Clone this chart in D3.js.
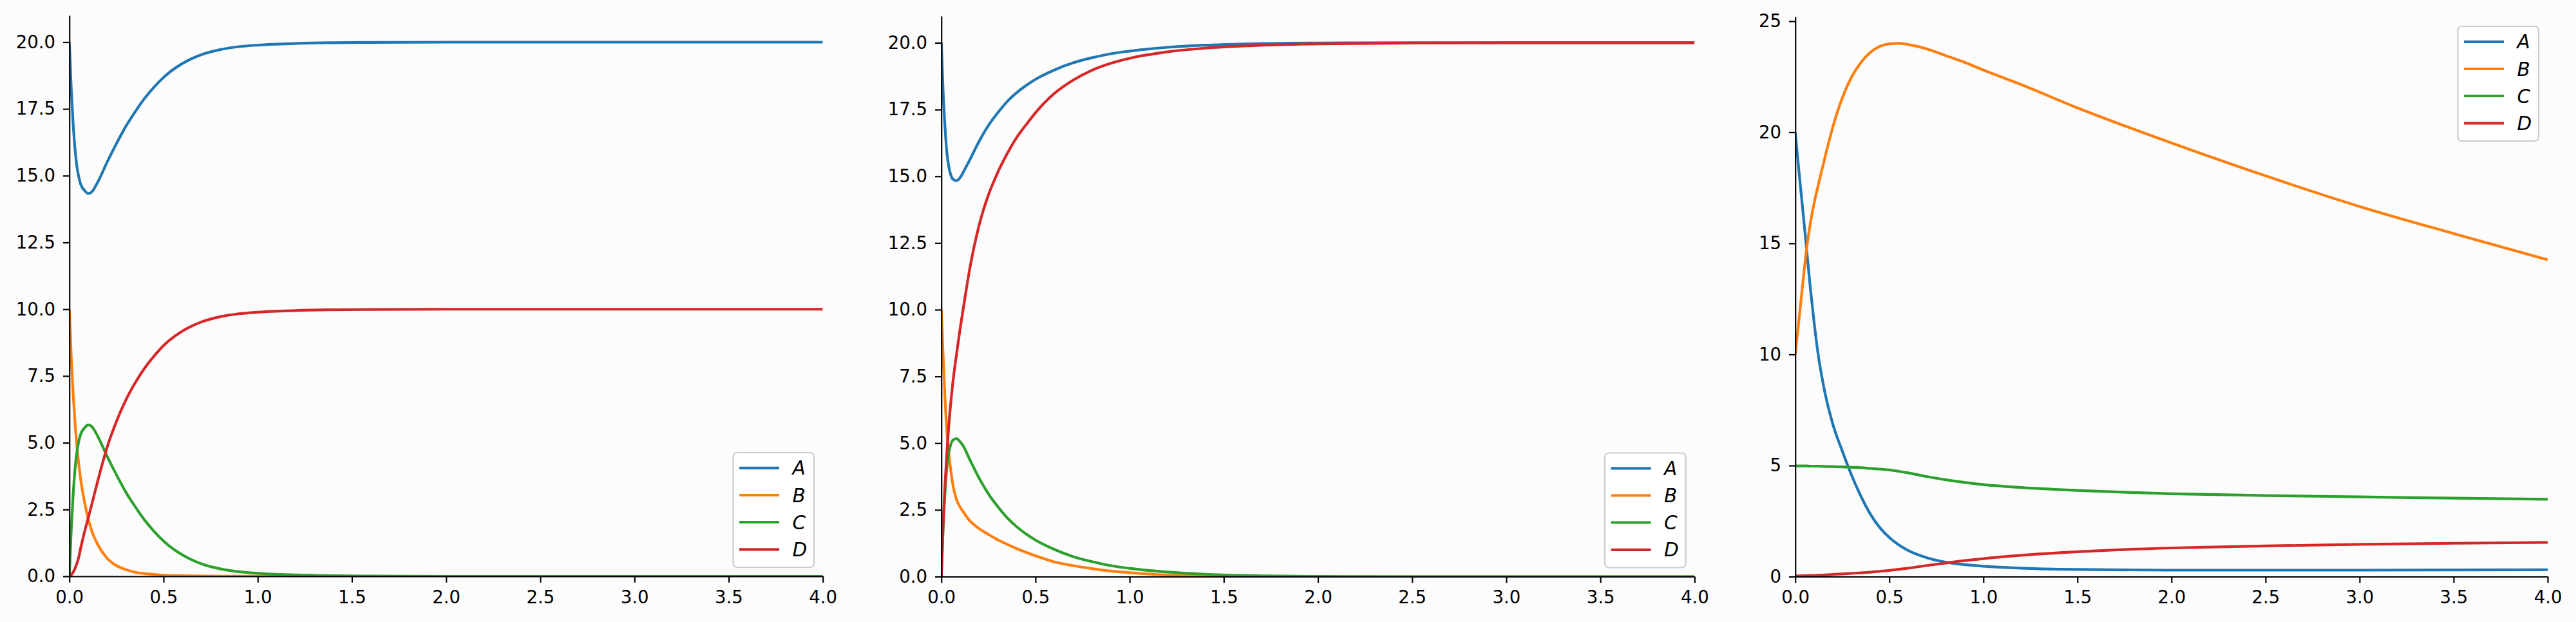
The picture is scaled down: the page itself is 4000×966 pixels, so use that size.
<!DOCTYPE html>
<html><head><meta charset="utf-8">
<script src="https://cdn.jsdelivr.net/npm/d3@7"></script>
<style>body{margin:0;background:#fdfcfd;} svg{display:block}</style>
</head><body>
<svg id="chart" width="4000" height="966"></svg>
<script>
// ---------- data ----------
const seriesNames = ["A", "B", "C", "D"];
const seriesColors = ["#1f77b4", "#ff7f0e", "#2ca02c", "#d62728"];
const xTicks = [0, 0.5, 1.0, 1.5, 2.0, 2.5, 3.0, 3.5, 4.0];
const yTicksLeft = [0, 2.5, 5, 7.5, 10, 12.5, 15, 17.5, 20];
const yTicksRight = [0, 5, 10, 15, 20, 25];

// time grid for panels 1 and 2
const time12 = [0, 0.01, 0.02, 0.03, 0.04, 0.05, 0.06, 0.08, 0.1, 0.12, 0.15, 0.2, 0.25, 0.3, 0.35, 0.4, 0.45, 0.5,
  0.6, 0.7, 0.8, 0.9, 1.0, 1.2, 1.4, 1.6, 2.0, 2.5, 3.0, 3.5, 4.0];

// panel 1
const p1A = [20, 18.25, 16.95, 16.0, 15.35, 14.95, 14.68, 14.45, 14.33, 14.4, 14.75, 15.5, 16.2, 16.85, 17.4, 17.9, 18.32, 18.68,
  19.2, 19.53, 19.72, 19.83, 19.89, 19.95, 19.98, 19.99, 20, 20, 20, 20, 20];
const p1B = [10, 8.2, 6.85, 5.75, 4.9, 4.2, 3.63, 2.8, 2.15, 1.68, 1.2, 0.68, 0.4, 0.25, 0.15, 0.1, 0.07, 0.04,
  0.02, 0.01, 0.005, 0.003, 0.002, 0.001, 0, 0, 0, 0, 0, 0, 0];
const p1C = [0, 1.75, 3.05, 4.0, 4.65, 5.05, 5.32, 5.55, 5.67, 5.6, 5.25, 4.5, 3.8, 3.15, 2.6, 2.1, 1.68, 1.32,
  0.8, 0.47, 0.28, 0.17, 0.11, 0.05, 0.02, 0.01, 0, 0, 0, 0, 0];
const p1D = [0, 0.05, 0.15, 0.3, 0.48, 0.72, 1.05, 1.65, 2.18, 2.72, 3.55, 4.82, 5.8, 6.6, 7.25, 7.8, 8.25, 8.64,
  9.18, 9.52, 9.72, 9.83, 9.89, 9.95, 9.98, 9.99, 10, 10, 10, 10, 10];

// panel 2
const p2A = [20, 18.1, 16.8, 15.85, 15.35, 15.05, 14.9, 14.83, 14.95, 15.2, 15.6, 16.3, 16.9, 17.38, 17.8, 18.13, 18.4, 18.63,
  18.98, 19.25, 19.44, 19.59, 19.69, 19.83, 19.91, 19.955, 19.99, 20, 20, 20, 20];
const p2B = [10, 8.2, 6.6, 5.4, 4.6, 4.0, 3.5, 2.9, 2.6, 2.39, 2.1, 1.8, 1.58, 1.38, 1.21, 1.05, 0.91, 0.78,
  0.55, 0.41, 0.3, 0.21, 0.15, 0.06, 0.025, 0.01, 0, 0, 0, 0, 0];
const p2C = [0, 1.9, 3.2, 4.15, 4.65, 4.95, 5.1, 5.17, 5.05, 4.85, 4.4, 3.7, 3.1, 2.62, 2.2, 1.87, 1.6, 1.37,
  1.02, 0.75, 0.56, 0.41, 0.31, 0.17, 0.09, 0.045, 0.01, 0, 0, 0, 0];
const p2D = [0, 2.0, 3.5, 4.7, 5.7, 6.5, 7.2, 8.3, 9.3, 10.2, 11.5, 13.15, 14.3, 15.15, 15.85, 16.45, 16.93, 17.38,
  18.1, 18.6, 18.97, 19.23, 19.42, 19.66, 19.8, 19.88, 19.96, 19.99, 20, 20, 20];

// time grid for panel 3
const time3 = [0, 0.02, 0.04, 0.06, 0.08, 0.1, 0.12, 0.15, 0.2, 0.25, 0.3, 0.35, 0.4, 0.45, 0.5, 0.55, 0.6,
  0.7, 0.8, 0.9, 1.0, 1.2, 1.5, 2.0, 2.5, 3.0, 3.5, 4.0];
const p3A = [20, 18.2, 16.5, 14.75, 13.0, 11.45, 10.1, 8.6, 6.85, 5.65, 4.55, 3.6, 2.8, 2.2, 1.76, 1.43, 1.18,
  0.85, 0.65, 0.54, 0.47, 0.38, 0.32, 0.29, 0.29, 0.29, 0.3, 0.31];
const p3B = [10, 11.6, 13.2, 14.75, 15.9, 16.8, 17.55, 18.6, 20.25, 21.55, 22.5, 23.15, 23.6, 23.87, 23.98, 24.0, 23.95,
  23.75, 23.45, 23.15, 22.8, 22.15, 21.1, 19.52, 18.04, 16.66, 15.44, 14.26];
const p3C = [4.98, 4.98, 4.98, 4.98, 4.97, 4.97, 4.97, 4.96, 4.95, 4.94, 4.92, 4.9, 4.87, 4.84, 4.8, 4.74, 4.67,
  4.5, 4.36, 4.24, 4.14, 4.01, 3.88, 3.73, 3.65, 3.59, 3.53, 3.48];
const p3D = [0.03, 0.03, 0.04, 0.04, 0.05, 0.05, 0.06, 0.07, 0.1, 0.12, 0.15, 0.17, 0.2, 0.24, 0.28, 0.33, 0.38,
  0.5, 0.61, 0.72, 0.81, 0.96, 1.12, 1.29, 1.38, 1.45, 1.5, 1.54];

// ---------- layout ----------
const panels = [
  { t: time12, series: [p1A, p1B, p1C, p1D], yMax: 21, yTicks: yTicksLeft, fmt: d3.format(".1f"),
    box: { l: 107.7, r: 1277.7, t: 24, b: 895 }, legend: "br" },
  { t: time12, series: [p2A, p2B, p2C, p2D], yMax: 21, yTicks: yTicksLeft, fmt: d3.format(".1f"),
    box: { l: 1461.7, r: 2631.3, t: 25, b: 895.5 }, legend: "br" },
  { t: time3, series: [p3A, p3B, p3C, p3D], yMax: 25.2, yTicks: yTicksRight, fmt: d3.format("d"),
    box: { l: 2787.7, r: 3956, t: 26, b: 895.5 }, legend: "tr" }
];

const FONT = "'DejaVu Sans', sans-serif";
const FS = 27.5;
const svg = d3.select("#chart");
svg.append("rect").attr("width", 4000).attr("height", 966).attr("fill", "#fdfcfd");

panels.forEach((p, i) => {
  const x = d3.scaleLinear().domain([0, 4]).range([p.box.l, p.box.r]);
  const y = d3.scaleLinear().domain([0, p.yMax]).range([p.box.b, p.box.t]);
  const g = svg.append("g");

  const clipId = "clip" + i;
  svg.append("clipPath").attr("id", clipId).append("rect")
    .attr("x", p.box.l).attr("y", p.box.t)
    .attr("width", p.box.r - p.box.l).attr("height", p.box.b - p.box.t);

  const line = d3.line().x(d => x(d[0])).y(d => y(d[1])).curve(d3.curveMonotoneX);
  const lg = g.append("g").attr("clip-path", `url(#${clipId})`);
  p.series.forEach((vals, k) => {
    const pts = p.t.map((tt, j) => [tt, vals[j]]);
    lg.append("path").attr("d", line(pts)).attr("fill", "none")
      .attr("stroke", seriesColors[k]).attr("stroke-width", 4.2)
      .attr("stroke-linejoin", "round").attr("stroke-linecap", "butt");
  });

  // axes
  const xAxis = d3.axisBottom(x).tickValues(xTicks).tickFormat(d3.format(".1f"))
    .tickSize(9.7).tickSizeOuter(0).tickPadding(12.5);
  const yAxis = d3.axisLeft(y).tickValues(p.yTicks).tickFormat(p.fmt)
    .tickSize(9.7).tickSizeOuter(0).tickPadding(12);
  const gx = g.append("g").attr("transform", `translate(0,${p.box.b})`).call(xAxis);
  const gy = g.append("g").attr("transform", `translate(${p.box.l},0)`).call(yAxis);
  [gx, gy].forEach(ax => {
    ax.attr("font-family", FONT).attr("font-size", FS);
    ax.selectAll(".domain").attr("stroke", "#000").attr("stroke-width", 2.2);
    ax.selectAll(".tick line").attr("stroke", "#000").attr("stroke-width", 2.2);
    ax.selectAll(".tick text").attr("fill", "#000");
  });

  // legend
  const W = 125.5, H = 178;
  let bx, by;
  if (p.legend === "br") { bx = p.box.r - 13.7 - W; by = p.box.b - 14 - H; }
  else { bx = p.box.r - 14 - W; by = p.box.t + 15; }
  const leg = g.append("g");
  leg.append("rect").attr("x", bx).attr("y", by).attr("width", W).attr("height", H)
    .attr("rx", 6).attr("ry", 6).attr("fill", "#ffffff").attr("fill-opacity", 0.8)
    .attr("stroke", "#cccccc").attr("stroke-width", 2.2);
  const rows = [23.8, 66, 108, 150.3];
  seriesNames.forEach((nm, k) => {
    leg.append("line").attr("x1", bx + 9.5).attr("x2", bx + 71.5)
      .attr("y1", by + rows[k]).attr("y2", by + rows[k])
      .attr("stroke", seriesColors[k]).attr("stroke-width", 4.2);
    leg.append("text").attr("x", bx + 92).attr("y", by + rows[k] + 10.5)
      .attr("font-family", FONT).attr("font-style", "italic").attr("font-size", 29.5)
      .attr("fill", "#000").text(nm);
  });
});
</script>
</body></html>
